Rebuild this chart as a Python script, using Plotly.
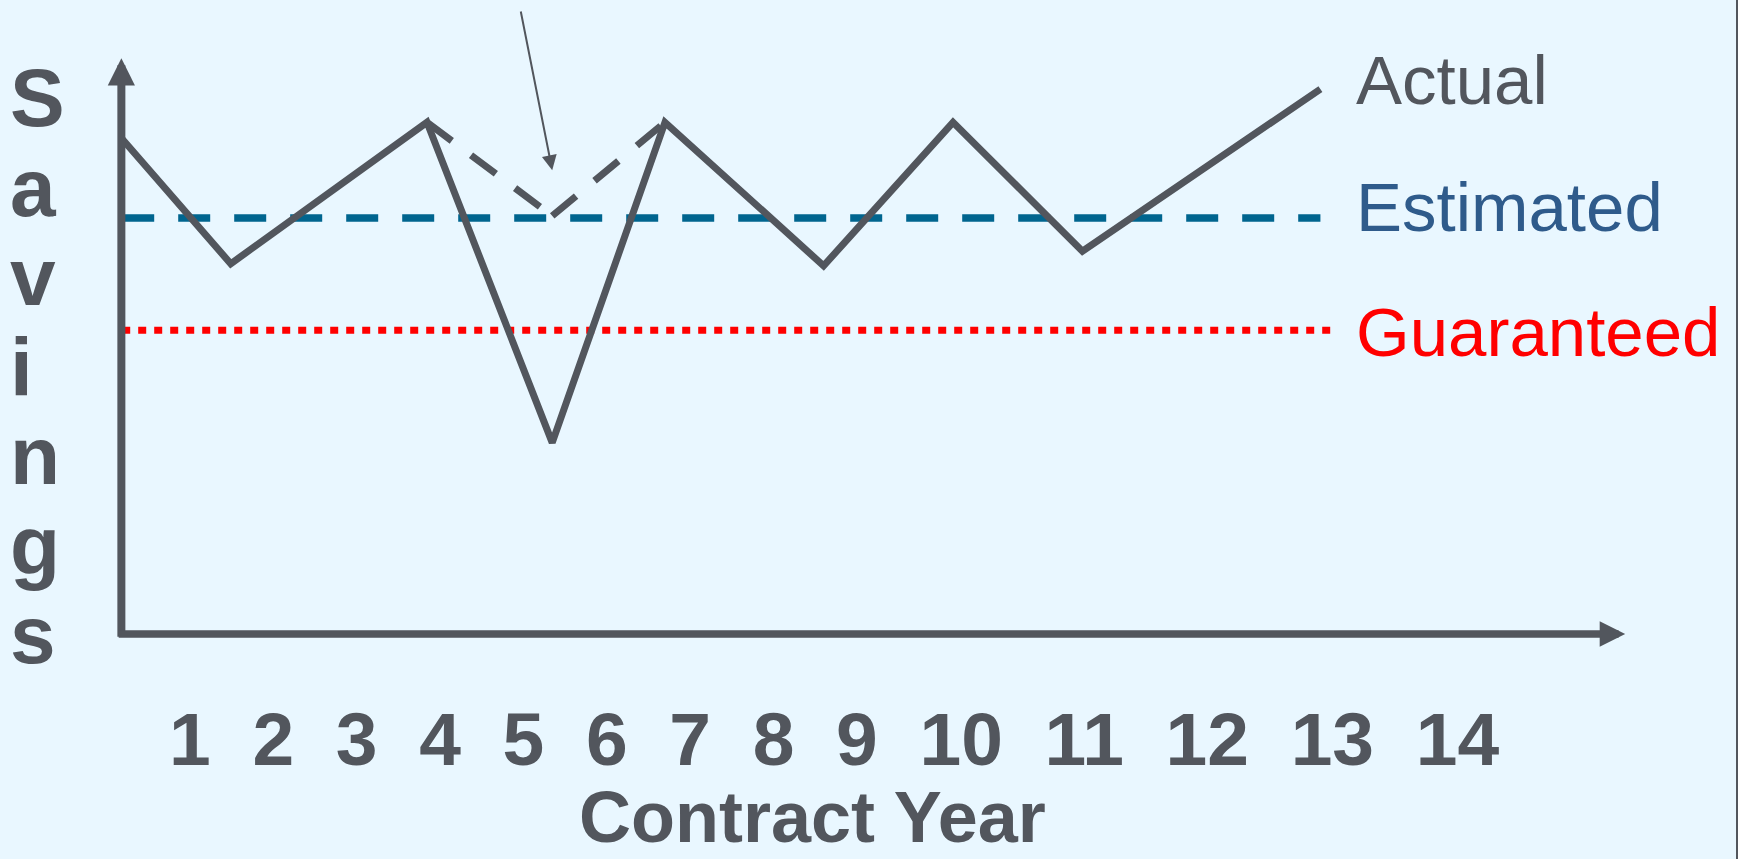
import plotly.graph_objects as go

# ---- data -------------------------------------------------------------
actual_years = [0.2, 1.5, 3.85, 5.35, 6.7, 8.6, 10.15, 11.7, 14.55]
actual_savings = [119, 89, 123, 46, 123, 88.5, 123, 92, 131]

expected_years = [3.85, 5.35, 6.7]      # path the savings would have taken
expected_savings = [123, 100.5, 123]

estimated_years = [0.2, 14.55]
estimated_savings = 100
guaranteed_years = [0.2, 14.7]
guaranteed_savings = 73

tick_labels = [str(y) for y in range(1, 15)]
series_names = ["Actual", "Estimated", "Guaranteed"]

# ---- styling ----------------------------------------------------------
W, H = 1738, 859
BG = "#E9F7FF"
GRAY = "#52565D"
BLUE_LINE = "#00658F"
BLUE_TEXT = "#2F5B8B"
RED = "#FF0000"
FONT = "Liberation Sans, Arial, sans-serif"

X_RANGE = [-1.2635, 19.551]
Y_RANGE = [-54.09, 152.40]
Y_TOP = 138.4          # tip of the vertical axis arrow
X_END = 18.2           # tip of the horizontal axis arrow
ORIGIN_X = 0.19

fig = go.Figure()

fig.add_trace(go.Scatter(
    x=guaranteed_years, y=[guaranteed_savings] * 2, mode="lines",
    line=dict(color=RED, width=7, dash="8px,8px"), hoverinfo="skip"))
fig.add_trace(go.Scatter(
    x=estimated_years, y=[estimated_savings] * 2, mode="lines",
    line=dict(color=BLUE_LINE, width=7.5, dash="32px,24px"), hoverinfo="skip"))

# expected path: each leg dashed on its own so the pattern restarts at the dip
for i in range(len(expected_years) - 1):
    fig.add_trace(go.Scatter(
        x=expected_years[i:i + 2], y=expected_savings[i:i + 2], mode="lines",
        line=dict(color=GRAY, width=7, dash="31px,24px"), hoverinfo="skip"))

fig.add_trace(go.Scatter(
    x=actual_years, y=actual_savings, mode="lines",
    line=dict(color=GRAY, width=7), hoverinfo="skip"))

annotations = []

# axes drawn as arrows
annotations.append(dict(
    x=ORIGIN_X, y=Y_TOP, ax=ORIGIN_X, ay=-1.0, xref="x", yref="y", axref="x", ayref="y",
    text="", showarrow=True, arrowhead=2, arrowwidth=8, arrowsize=0.68, arrowcolor=GRAY))
annotations.append(dict(
    x=X_END, y=0, ax=ORIGIN_X - 0.05, ay=0, xref="x", yref="y", axref="x", ayref="y",
    text="", showarrow=True, arrowhead=2, arrowwidth=7.5, arrowsize=0.68, arrowcolor=GRAY))

# pointer to the dip of the expected path
annotations.append(dict(
    x=expected_years[1], y=expected_savings[1] + 11, ax=expected_years[1] - 0.38, ay=150,
    xref="x", yref="y", axref="x", ayref="y",
    text="", showarrow=True, arrowhead=2, arrowwidth=2, arrowsize=1.5, arrowcolor=GRAY))

# series labels at the right end of each line
label_x = 14.95
for name, yval, color, shift in [
    (series_names[0], actual_savings[-1], GRAY, 9),
    (series_names[1], estimated_savings, BLUE_TEXT, 10),
    (series_names[2], guaranteed_savings, RED, -2),
]:
    annotations.append(dict(
        x=label_x, y=yval, xref="x", yref="y", xanchor="left", yanchor="middle",
        yshift=shift, text=name, showarrow=False,
        font=dict(family=FONT, size=69, color=color)))

# vertical axis title, one letter per line
for i, ch in enumerate("Savings"):
    annotations.append(dict(
        x=8 / W, y=1 - (97.6 + 89.5 * i) / H, xref="paper", yref="paper",
        xanchor="left", yanchor="middle", text=f"<b>{ch}</b>", showarrow=False,
        font=dict(family=FONT, size=82, color=GRAY)))

# year labels along the horizontal axis
annotations.append(dict(
    x=834 / W, y=1 - 739 / H, xref="paper", yref="paper",
    xanchor="center", yanchor="middle",
    text="<b>" + "\u00a0\u00a0".join(tick_labels) + "</b>", showarrow=False,
    font=dict(family=FONT, size=75, color=GRAY)))

annotations.append(dict(
    x=812 / W, y=1 - 817 / H, xref="paper", yref="paper",
    xanchor="center", yanchor="middle", text="<b>Contract Year</b>", showarrow=False,
    font=dict(family=FONT, size=72, color=GRAY)))

fig.update_layout(
    width=W, height=H, autosize=False,
    margin=dict(l=0, r=0, t=0, b=0),
    paper_bgcolor=BG, plot_bgcolor=BG,
    showlegend=False,
    xaxis=dict(range=X_RANGE, visible=False, fixedrange=True),
    yaxis=dict(range=Y_RANGE, visible=False, fixedrange=True),
    annotations=annotations,
    shapes=[dict(type="line", xref="paper", yref="paper",
                 x0=1 - 1 / W, x1=1 - 1 / W, y0=0, y1=1,
                 line=dict(color=GRAY, width=2))],
)

fig.write_html("out.html", config={"displayModeBar": False})
